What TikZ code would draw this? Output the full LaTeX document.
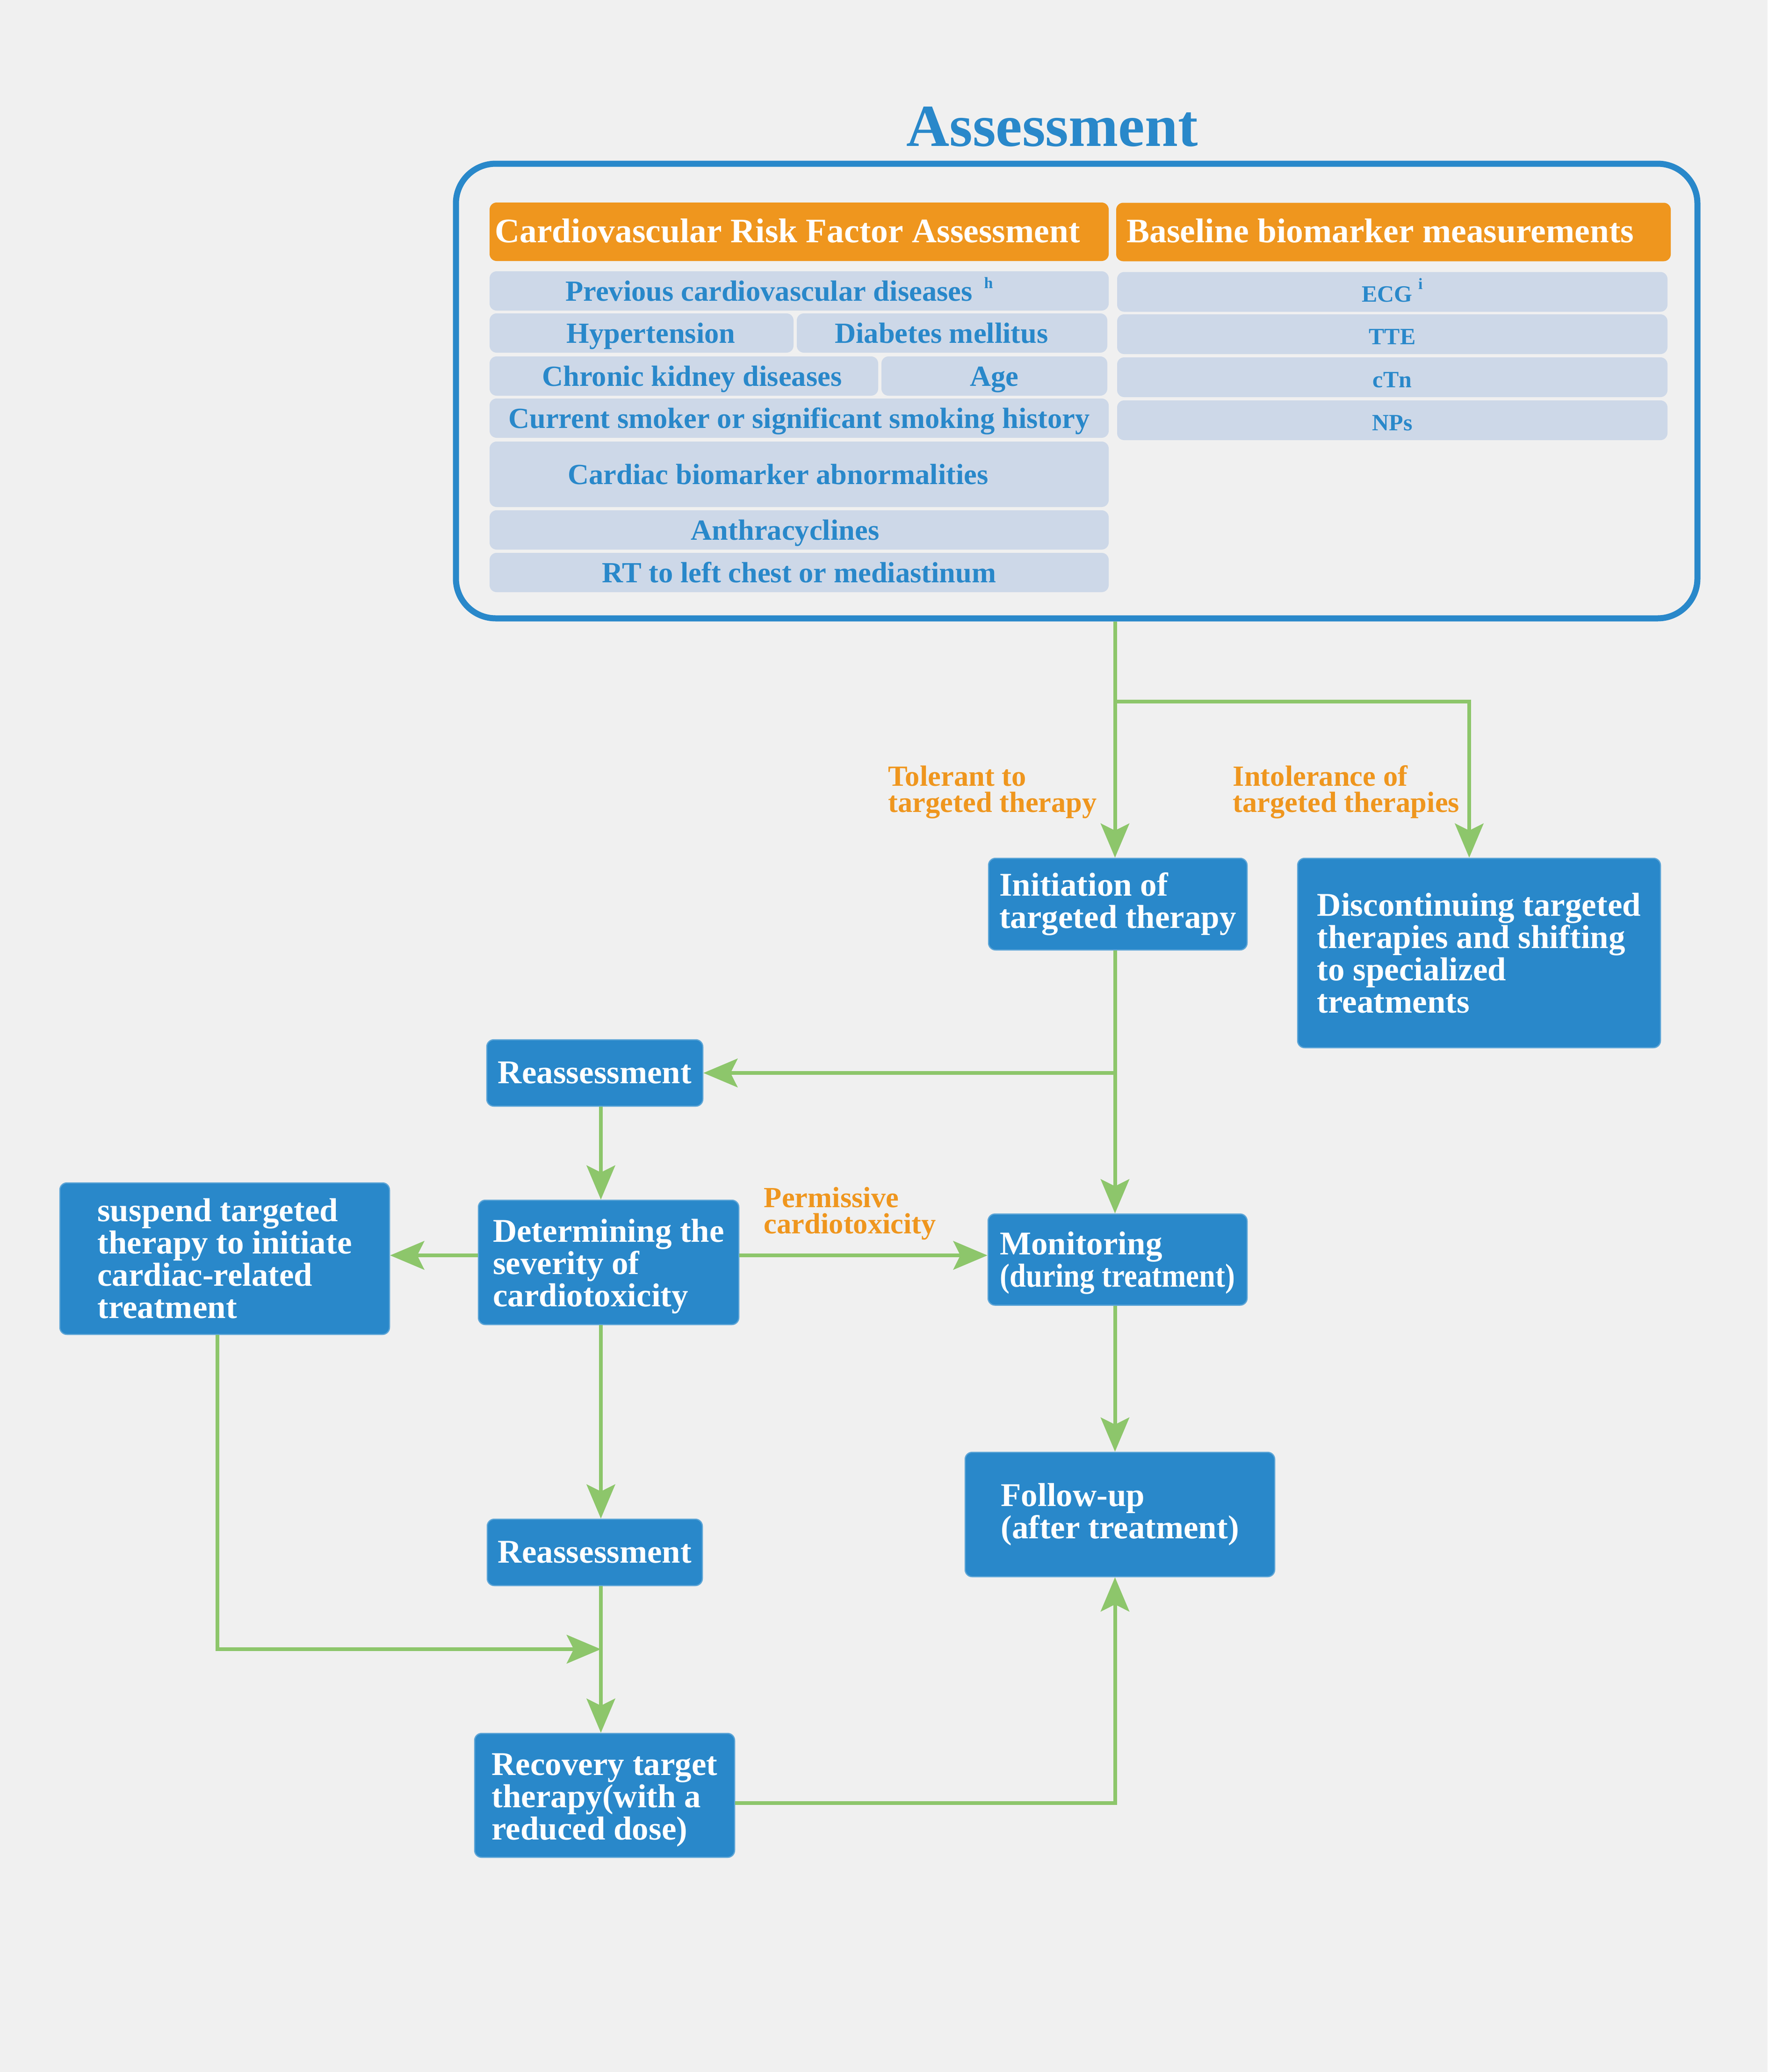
\documentclass[tikz,border=0pt]{standalone}
\usepackage{fontspec}
\usepackage{graphicx}
\setmainfont{Liberation Serif}
\usetikzlibrary{arrows.meta}

\definecolor{bggray}{RGB}{240,240,240}
\definecolor{boxblue}{RGB}{41,136,202}
\definecolor{headorange}{RGB}{239,150,30}
\definecolor{rowgray}{RGB}{205,216,232}
\definecolor{flowgreen}{RGB}{141,198,107}

\tikzset{every picture/.style={line width=0.75pt}}
\tikzset{
  flowbox/.style={rectangle, rounded corners=3pt, fill=boxblue, draw=boxblue!75!white, line width=0.5pt,
    text=white, font=\bfseries\fontsize{14.2}{13.8}\selectfont, align=left, inner sep=0pt},
  rowcell/.style={rectangle, rounded corners=3pt, fill=rowgray, text=boxblue, inner sep=0pt,
    font=\bfseries\fontsize{12.5}{14}\selectfont, text height=0.86em, text depth=0pt},
  biocell/.style={rowcell, font=\bfseries\fontsize{10}{12}\selectfont, minimum width=235.4pt, minimum height=17pt},
  headcell/.style={rectangle, rounded corners=3pt, fill=headorange, text=white,
    font=\bfseries\fontsize{14.7}{16}\selectfont, inner sep=0pt, minimum height=25pt,
    text height=0.9em, text depth=0pt},
  flowlabel/.style={text=headorange, font=\bfseries\fontsize{12.5}{11.2}\selectfont, align=left, inner sep=0pt, anchor=west},
  flow/.style={draw=flowgreen, line width=1.6pt, -{Stealth[length=14.6pt,width=12.2pt,inset=3pt]}}
}
\newcommand{\supmark}[1]{\raisebox{5.4pt}{\fontsize{6.8}{7}\selectfont #1}}
% moves a centred cell text sideways by half the given amount
\newcommand{\nudge}[2]{\hspace*{#1}#2}
% taller first line, sets a text block a little lower in its box
\newcommand{\tallline}[1]{\rule{0pt}{#1}}

\begin{document}
\begin{tikzpicture}[x=1pt,y=1pt,yscale=-1,xscale=1]
%background, sets the page size
\fill[bggray] (0,0) rectangle (756,886);

% Title
\node[text=boxblue, font=\bfseries\fontsize{25.5}{28}\selectfont, anchor=base, inner sep=0pt] (title) at (450,62.4) {Assessment};
% Assessment frame
\node[draw=boxblue, line width=2.6pt, rounded corners=17pt, minimum width=531pt, minimum height=194.4pt] (assess) at (460.5,167.2) {};

% Header cells
\node[headcell, minimum width=264.8pt] (riskhead) at (341.8,99.1) {\nudge{-10pt}{Cardiovascular Risk Factor Assessment}};
\node[headcell, minimum width=237.2pt] (biohead) at (596,99.2) {\nudge{-11.3pt}{Baseline biomarker measurements}};

% Risk factor cells
\node[rowcell, minimum width=264.8pt, minimum height=16.8pt] (prevcvd) at (341.8,124.4) {\nudge{-17pt}{Previous cardiovascular diseases\hspace{5pt}\supmark{h}}};
\node[rowcell, minimum width=130pt, minimum height=16.8pt] (hyper) at (274.4,142.4) {\nudge{8pt}{Hypertension}};
\node[rowcell, minimum width=132.8pt, minimum height=16.8pt] (diab) at (407.2,142.4) {\nudge{-9pt}{Diabetes mellitus}};
\node[rowcell, minimum width=166.2pt, minimum height=16.8pt] (ckd) at (292.5,160.8) {\nudge{7pt}{Chronic kidney diseases}};
\node[rowcell, minimum width=96.6pt, minimum height=16.8pt] (age) at (425.3,160.8) {Age};
\node[rowcell, minimum width=264.8pt, minimum height=16.8pt] (smoke) at (341.8,178.8) {Current smoker or significant smoking history};
\node[rowcell, minimum width=264.8pt, minimum height=28pt] (biomark) at (341.8,202.8) {\nudge{-18pt}{Cardiac biomarker abnormalities}};
\node[rowcell, minimum width=264.8pt, minimum height=16.8pt] (anthra) at (341.8,226.6) {\nudge{-12pt}{Anthracyclines}};
\node[rowcell, minimum width=264.8pt, minimum height=16.8pt] (radio) at (341.8,244.8) {RT to left chest or mediastinum};

% Baseline measurement cells
\node[biocell] (ecg) at (595.5,124.8) {ECG\hspace{2.5pt}\supmark{i}};
\node[biocell] (tte) at (595.5,142.9) {TTE};
\node[biocell] (ctn) at (595.5,161.3) {cTn};
\node[biocell] (nps) at (595.5,179.7) {NPs};

% Flow boxes
\node[flowbox, minimum width=110.6pt, minimum height=39.2pt] (init) at (478.1,386.6) {Initiation of\\targeted therapy};
\node[flowbox, minimum width=155.2pt, minimum height=81pt] (discont) at (632.6,407.5) {Discontinuing targeted\\therapies and shifting\\to specialized\\treatments};
\node[flowbox, minimum width=92.4pt, minimum height=28.4pt] (reass1) at (254.4,458.8) {Reassessment};
\node[flowbox, minimum width=111.4pt, minimum height=53.2pt] (determ) at (260.3,539.8) {\tallline{13.2pt}Determining the\\severity of\\cardiotoxicity};
\node[flowbox, minimum width=141pt, minimum height=64.8pt] (suspend) at (96.1,538.2) {suspend targeted\\therapy to initiate\\cardiac-related\\treatment};
\node[flowbox, minimum width=110.8pt, minimum height=39pt] (monitor) at (478,538.6) {\tallline{12.9pt}Monitoring\\\scalebox{0.885}[1]{(during treatment)}};
\node[flowbox, minimum width=132.4pt, minimum height=53.2pt] (followup) at (479,647.6) {Follow-up\\(after treatment)};
\node[flowbox, minimum width=92pt, minimum height=28.4pt] (reass2) at (254.4,663.8) {Reassessment};
\node[flowbox, minimum width=111.2pt, minimum height=53pt] (recovery) at (258.6,767.7) {\tallline{13.6pt}Recovery target\\therapy(with a\\reduced dose)};

% Branch labels
\node[flowlabel] (tolerant) at (379.6,338.7) {Tolerant to\\targeted therapy};
\node[flowlabel] (intolerant) at (527,338.7) {Intolerance of\\targeted therapies};
\node[flowlabel] (permissive) at (326.4,519) {Permissive\\cardiotoxicity};

% Connector bend points
\coordinate (trunk) at (476.9,0);
\coordinate (midcol) at (257,0);
\coordinate (fork) at (trunk |- 0,300);
\coordinate (merge) at (midcol |- 0,705.2);
\coordinate (sidedrop) at (93,0);
\coordinate (severity) at (0,536.8);
\coordinate (recout) at (0,771);

% Connectors
\draw[flow] (assess.south -| trunk) -- (init.north -| trunk);
\draw[flow] (fork) -| ([xshift=-4.2pt]discont.north);
\draw[flow] (init.south -| trunk) -- (monitor.north -| trunk);
\draw[flow] (trunk |- reass1.east) -- (reass1.east);
\draw[flow] (reass1.south -| midcol) -- (determ.north -| midcol);
\draw[flow] (determ.west |- severity) -- (suspend.east |- severity);
\draw[flow] (determ.east |- severity) -- (monitor.west |- severity);
\draw[flow] (monitor.south -| trunk) -- (followup.north -| trunk);
\draw[flow] (determ.south -| midcol) -- (reass2.north -| midcol);
\draw[flow] (reass2.south -| midcol) -- (recovery.north -| midcol);
\draw[flow] (suspend.south -| sidedrop) |- (merge);
\draw[flow] (recovery.east |- recout) -| (followup.south -| trunk);

\end{tikzpicture}
\end{document}
